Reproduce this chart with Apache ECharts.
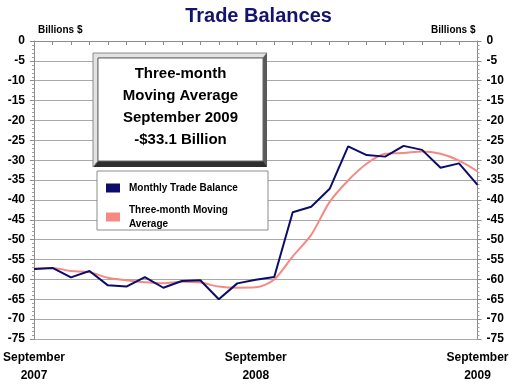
<!DOCTYPE html>
<html><head><meta charset="utf-8">
<script src="https://cdn.jsdelivr.net/npm/echarts@6/dist/echarts.min.js"></script>
<style>html,body{margin:0;padding:0;background:#fff}#c{width:517px;height:385px}</style>
</head><body><div id="c"></div>
<script>
const months = ['Sep 2007','Oct 2007','Nov 2007','Dec 2007','Jan 2008','Feb 2008','Mar 2008','Apr 2008','May 2008','Jun 2008','Jul 2008','Aug 2008','Sep 2008','Oct 2008','Nov 2008','Dec 2008','Jan 2009','Feb 2009','Mar 2009','Apr 2009','May 2009','Jun 2009','Jul 2009','Aug 2009','Sep 2009'];
const xTickLabels = {0:'September\n2007', 12:'September\n2008', 24:'September\n2009'};
const monthly = [-57.4,-57.1,-59.5,-57.9,-61.5,-61.8,-59.4,-62.1,-60.4,-60.2,-65.0,-61.0,-60.1,-59.4,-43.1,-41.7,-37.2,-26.5,-28.7,-29.1,-26.4,-27.4,-31.9,-30.8,-36.2];
const movingAvg = [-57.3,-57.1,-57.9,-58.2,-59.6,-60.2,-60.7,-61.0,-60.6,-60.8,-61.8,-62.1,-62.0,-60.0,-54.2,-48.8,-40.5,-35.1,-30.9,-28.4,-28.2,-27.8,-28.4,-30.1,-32.8];
const yMin = -75, yMax = 0, yStep = 5;

const FONT = '"Liberation Sans", Arial, sans-serif';
const chart = echarts.init(document.getElementById('c'), null, {renderer:'canvas'});
const yAxisBase = {
  type:'value', min:yMin, max:yMax, interval:yStep,
  axisLine:{show:true, lineStyle:{color:'#8c8c8c', width:1}},
  axisTick:{show:true, length:4, lineStyle:{color:'#8c8c8c'}},
  minorTick:{show:true, splitNumber:5, length:2, lineStyle:{color:'#a0a0a0'}},
  splitLine:{show:true, lineStyle:{color:'#a8a8a8', width:1}},
  axisLabel:{color:'#000', fontFamily:FONT, fontWeight:'bold', fontSize:12, margin:9}
};
chart.setOption({
  animation:false,
  backgroundColor:'#fff',
  title:{text:'Trade Balances', left:'center', top:1,
    textStyle:{color:'#14146e', fontFamily:FONT, fontWeight:'bold', fontSize:20}},
  grid:{left:34, right:39.5, top:41, bottom:43, containLabel:false},
  xAxis:{type:'category', data:months, boundaryGap:false,
    axisLine:{lineStyle:{color:'#8c8c8c'}},
    axisTick:{show:true, interval:0, length:4, lineStyle:{color:'#8c8c8c'}},
    axisLabel:{interval:0, color:'#000', fontFamily:FONT, fontWeight:'bold', fontSize:12, lineHeight:18, margin:10,
      formatter:(v,i)=> xTickLabels[i] || ''},
    splitLine:{show:false}
  },
  yAxis:[
    Object.assign({}, yAxisBase, {position:'left', name:'Billions $', nameLocation:'end', nameGap:6,
      nameTextStyle:{color:'#000', fontFamily:FONT, fontWeight:'bold', fontSize:10, align:'left', padding:[0,0,0,4]}}),
    Object.assign({}, yAxisBase, {position:'right', splitLine:{show:false}, name:'Billions $', nameLocation:'end', nameGap:6,
      nameTextStyle:{color:'#000', fontFamily:FONT, fontWeight:'bold', fontSize:10, align:'right', padding:[0,2,0,0]}})
  ],
  legend:{orient:'vertical', left:101, top:176, itemWidth:14, itemHeight:9, itemGap:8,
    data:[{name:'Monthly Trade Balance', icon:'rect'},{name:'Three-month Moving\nAverage', icon:'rect'}],
    textStyle:{color:'#000', fontFamily:FONT, fontWeight:'bold', fontSize:10, lineHeight:14, padding:[0,0,0,4]}
  },
  graphic:[
    {type:'rect', z:1, shape:{x:97, y:171, width:171, height:59}, style:{fill:'#fff', stroke:'#8c8c8c', lineWidth:1}},
    {type:'rect', z:1, shape:{x:93, y:53, width:174, height:114}, style:{fill:'#2e2e2e'}},
    {type:'polygon', z:1, shape:{points:[[93,53],[267,53],[263,58],[98,58],[98,161],[93,167]]}, style:{fill:'#e2e2e2', stroke:'#8a8a8a', lineWidth:1}},
    {type:'polygon', z:1, shape:{points:[[267,53],[267,167],[263,161],[263,58]]}, style:{fill:'#5a5a5a'}},
    {type:'rect', z:1, shape:{x:98, y:58, width:165, height:103}, style:{fill:'#fff', stroke:'#666', lineWidth:1}},
    {type:'text', z:2, x:180.5, y:63, style:{text:'Three-month\nMoving Average\nSeptember 2009\n-$33.1 Billion',
      fill:'#000', font:'bold 15px "Liberation Sans", Arial, sans-serif', lineHeight:22, align:'center'}}
  ],
  series:[
    {name:'Monthly Trade Balance', type:'line', data:monthly, yAxisIndex:0, showSymbol:false, symbol:'none',
      lineStyle:{color:'#0c0c6a', width:2}, itemStyle:{color:'#0c0c6a'}, z:4},
    {name:'Three-month Moving\nAverage', type:'line', data:movingAvg, yAxisIndex:0, showSymbol:false, symbol:'none', smooth:0.3,
      lineStyle:{color:'#f48a82', width:2}, itemStyle:{color:'#f48a82'}, z:3}
  ]
});
</script></body></html>
